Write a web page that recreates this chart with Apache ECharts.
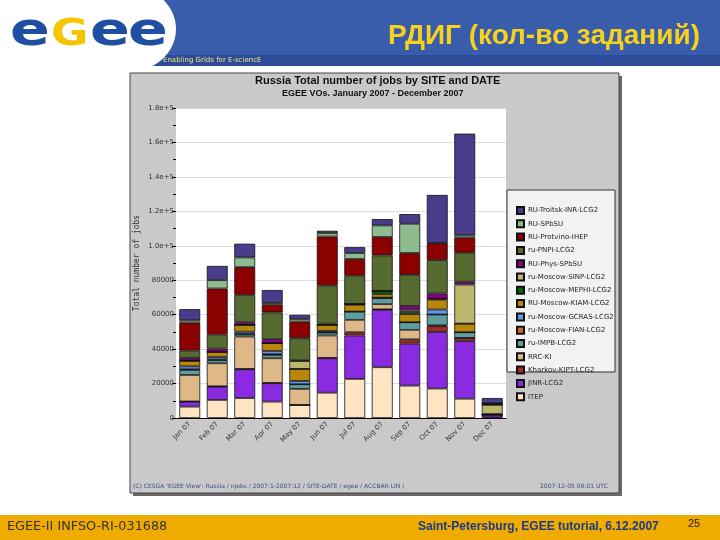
<!DOCTYPE html>
<html>
<head>
<meta charset="utf-8">
<script src="https://cdn.jsdelivr.net/npm/echarts@6/dist/echarts.min.js"></script>
<style>
html, body { margin: 0; padding: 0; background: #fff; }
#main { width: 720px; height: 540px; }
</style>
</head>
<body>
<div id="main"></div>
<script>
// months on the x axis
const months = ['Jan 07', 'Feb 07', 'Mar 07', 'Apr 07', 'May 07', 'Jun 07',
  'Jul 07', 'Aug 07', 'Sep 07', 'Oct 07', 'Nov 07', 'Dec 07']

// y axis ticks and their labels
const yTicks = [0, 20000, 40000, 60000, 80000, 100000, 120000, 140000, 160000, 180000]
const yTickLabels = ['0', '20000', '40000', '60000', '80000', '1.0e+5', '1.2e+5', '1.4e+5', '1.6e+5', '1.8e+5']

// jobs per site (stack order: bottom -> top)
const itep       = [6600, 10500, 11600, 9500, 7600, 14700, 22700, 29500, 18800, 17100, 11200, 300]
const jinr       = [2900, 7700, 16700, 10700, 0, 20000, 25200, 33300, 24400, 32900, 33400, 1700]
const kharkov    = [100, 200, 200, 200, 0, 200, 1900, 300, 2500, 3300, 1900, 0]
const rrcKi      = [15400, 13400, 18800, 14300, 9300, 13000, 7200, 3000, 5500, 500, 0, 0]
const impb       = [2900, 1800, 1300, 1900, 2700, 1700, 4800, 3500, 4400, 6300, 3300, 0]
const fian       = [400, 400, 300, 500, 0, 200, 0, 300, 0, 0, 0, 0]
const gcras      = [1700, 1400, 1200, 1800, 1900, 800, 0, 0, 0, 2900, 0, 0]
const kiam       = [3100, 3000, 4000, 4600, 7000, 3500, 3900, 2000, 4700, 5800, 5000, 0]
const mephi      = [300, 0, 0, 0, 0, 0, 500, 1900, 1300, 500, 0, 300]
const sinp       = [0, 0, 0, 0, 4600, 0, 0, 0, 1200, 0, 22700, 5400]
const physSpbsu  = [1500, 1900, 1500, 2300, 300, 700, 0, 0, 2300, 3000, 1600, 0]
const pnpi       = [4200, 8100, 15900, 15500, 12900, 22100, 16400, 20600, 18000, 19400, 16800, 800]
const ihep       = [16300, 26800, 16100, 4500, 9700, 28500, 9700, 10700, 12700, 9700, 8800, 0]
const spbsu      = [1300, 4800, 5600, 1000, 1500, 2000, 3500, 6700, 17000, 300, 1300, 0]
const troitsk    = [6500, 8300, 8000, 7500, 2400, 1300, 3400, 3700, 5600, 27800, 59100, 3100]

const siteNames = ['ITEP', 'JINR-LCG2', 'Kharkov-KIPT-LCG2', 'RRC-KI', 'ru-IMPB-LCG2',
  'ru-Moscow-FIAN-LCG2', 'ru-Moscow-GCRAS-LCG2', 'RU-Moscow-KIAM-LCG2', 'ru-Moscow-MEPHI-LCG2',
  'ru-Moscow-SINP-LCG2', 'RU-Phys-SPbSU', 'ru-PNPI-LCG2', 'RU-Protvino-IHEP', 'RU-SPbSU',
  'RU-Troitsk-INR-LCG2']
const siteValues = [itep, jinr, kharkov, rrcKi, impb, fian, gcras, kiam, mephi, sinp,
  physSpbsu, pnpi, ihep, spbsu, troitsk]
const siteColors = ['#ffe4c4', '#8a2be2', '#a52a2a', '#deb887', '#5f9ea0', '#d2691e',
  '#6495ed', '#b8860b', '#006400', '#bdb76b', '#8b008b', '#556b2f', '#8b0000', '#8fbc8f',
  '#483d8b']

// plot area (pixels)
const GRID = { left: 176, top: 108, width: 330, height: 310 }

const chart = echarts.init(document.getElementById('main'), null, { renderer: 'canvas' })

const series = siteNames.map((name, i) => ({
  name: name,
  type: 'bar',
  stack: 'jobs',
  barCategoryGap: '24%',
  data: siteValues[i],
  itemStyle: { color: siteColors[i], borderColor: '#111', borderWidth: 0.8 },
  emphasis: { disabled: true }
}))

// egee logo letters
const LOGO_FONT = 'bold 47px "DejaVu Sans"'
const logo = [
  { type: 'text', z: 10, left: 10, top: 9, scaleX: 1.25, style: { text: 'e', fill: '#1e4fa3', font: LOGO_FONT } },
  { type: 'text', z: 10, left: 51, top: 16, scaleX: 1.2, style: { text: 'G', fill: '#f6c500', font: 'bold 38px "DejaVu Sans"' } },
  { type: 'text', z: 10, left: 90, top: 9, scaleX: 1.25, style: { text: 'e', fill: '#1e4fa3', font: LOGO_FONT } },
  { type: 'text', z: 10, left: 128, top: 9, scaleX: 1.25, style: { text: 'e', fill: '#1e4fa3', font: LOGO_FONT } }
]

const option = {
  animation: false,
  backgroundColor: '#fff',
  textStyle: { fontFamily: 'DejaVu Sans' },
  grid: { left: GRID.left, top: GRID.top, width: GRID.width, height: GRID.height },
  legend: {
    orient: 'vertical',
    left: 511,
    top: 201,
    itemWidth: 7,
    itemHeight: 7,
    itemGap: 4.3,
    icon: 'rect',
    data: siteNames.slice().reverse(),
    textStyle: { fontSize: 7, color: '#222', lineHeight: 7, padding: [0, 0, 0, -1] },
    selectedMode: false
  },
  xAxis: {
    type: 'category',
    data: months,
    axisLine: { lineStyle: { color: '#000', width: 1 } },
    axisTick: { length: 5, lineStyle: { color: '#000' } },
    axisLabel: { rotate: 45, interval: 0, fontSize: 7, color: '#333', margin: 5 }
  },
  yAxis: {
    type: 'value',
    min: 0,
    max: 180000,
    interval: 20000,
    name: 'Total number of jobs',
    nameLocation: 'middle',
    nameRotate: 90,
    nameGap: 35,
    nameTextStyle: { fontFamily: 'DejaVu Sans Mono', fontSize: 8, color: '#333' },
    axisLine: { show: false },
    axisTick: { show: true, length: 4, lineStyle: { color: '#000' } },
    minorTick: { show: true, splitNumber: 2, length: 3, lineStyle: { color: '#000' } },
    axisLabel: {
      fontSize: 7,
      color: '#333',
      margin: 2,
      formatter: v => yTickLabels[yTicks.indexOf(v)] || ''
    },
    splitLine: { lineStyle: { color: '#dcdcdc', width: 1 } }
  },
  graphic: [
    // slide header
    { type: 'rect', z: -10, shape: { x: 0, y: 0, width: 720, height: 55 }, style: { fill: '#3a5dab' } },
    { type: 'rect', z: -10, shape: { x: 0, y: 55, width: 720, height: 11 }, style: { fill: '#2d4c98' } },
    { type: 'ellipse', z: -9, shape: { cx: 128, cy: 29, rx: 48, ry: 43 }, style: { fill: '#fff' } },
    { type: 'rect', z: -9, shape: { x: 0, y: 0, width: 130, height: 66 }, style: { fill: '#fff' } },
    ...logo,
    { type: 'text', z: 10, right: 20, top: 22, style: { text: 'РДИГ (кол-во заданий)', fill: '#f7d21c', font: 'bold 28px "Liberation Sans"' } },
    { type: 'text', z: 10, left: 163, top: 57, style: { text: 'Enabling Grids for E-sciencE', fill: '#efe27a', font: '7px "DejaVu Sans"' } },

    // chart frame
    { type: 'rect', z: -8, shape: { x: 133, y: 76, width: 489, height: 420 }, style: { fill: '#6a6a6a' } },
    { type: 'rect', z: -7, shape: { x: 130, y: 73, width: 489, height: 420 }, style: { fill: '#c9c9c9', stroke: '#444', lineWidth: 1 } },
    { type: 'rect', z: -6, shape: { x: GRID.left, y: GRID.top, width: GRID.width, height: GRID.height }, style: { fill: '#fff' } },
    { type: 'rect', z: -6, shape: { x: 507, y: 190, width: 108, height: 182 }, style: { fill: '#f2f2f2', stroke: '#333', lineWidth: 1 } },
    { type: 'text', z: 10, left: 255, top: 75, style: { text: 'Russia Total number of jobs by SITE and DATE', fill: '#111', font: 'bold 11px "Liberation Sans"' } },
    { type: 'text', z: 10, left: 282, top: 89, style: { text: 'EGEE VOs. January 2007 - December 2007', fill: '#111', font: 'bold 9px "Liberation Sans"' } },
    { type: 'text', z: 10, left: 133, top: 483, style: { text: "(C) CESGA 'EGEE View': Russia / njobs / 2007:1-2007:12 / SITE-DATE / egee / ACCBAR LIN /", fill: '#3b4a8c', font: '6px "DejaVu Sans"' } },
    { type: 'text', z: 10, left: 540, top: 483, style: { text: '2007-12-05 09:01 UTC', fill: '#3b4a8c', font: '6px "DejaVu Sans"' } },

    // slide footer
    { type: 'rect', z: -10, shape: { x: 0, y: 515, width: 720, height: 25 }, style: { fill: '#efab00' } },
    { type: 'text', z: 10, left: 7, top: 520, style: { text: 'EGEE-II INFSO-RI-031688', fill: '#333', font: '12.8px "DejaVu Sans"' } },
    { type: 'text', z: 10, left: 418, top: 521, style: { text: 'Saint-Petersburg, EGEE tutorial, 6.12.2007', fill: '#1b3a8a', font: 'bold 12px "Liberation Sans"' } },
    { type: 'text', z: 10, left: 688, top: 518, style: { text: '25', fill: '#222', font: '11px "Liberation Sans"' } }
  ],
  series: series
}

chart.setOption(option)
</script>
</body>
</html>
